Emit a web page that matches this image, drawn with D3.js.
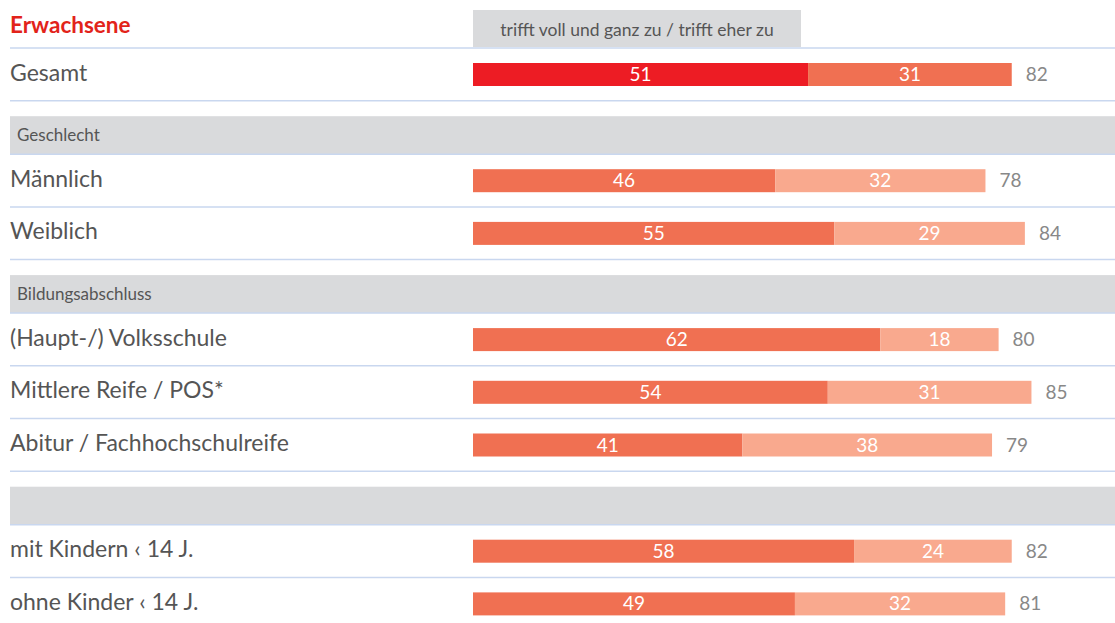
<!DOCTYPE html>
<html>
<head>
<meta charset="utf-8">
<script src="https://cdn.jsdelivr.net/npm/d3@7"></script>
<style>
  body { margin: 0; background: #fff; }
  svg { display: block; font-family: Lato, "Noto Sans", sans-serif; }
</style>
</head>
<body>
<svg width="1115" height="623"></svg>
<script>
// rows in order; type "band" = grey section header, "row" = bar row
var rowTypes = ["row", "band", "row", "row", "band", "row", "row", "row", "band", "row", "row"];
var rowLabels = ["Gesamt", "Geschlecht", "Männlich", "Weiblich", "Bildungsabschluss",
  "(Haupt-/) Volksschule", "Mittlere Reife / POS*", "Abitur / Fachhochschulreife", "",
  "mit Kindern ‹ 14 J.", "ohne Kinder ‹ 14 J."];
var voll = [51, null, 46, 55, null, 62, 54, 41, null, 58, 49];
var eher = [31, null, 32, 29, null, 18, 31, 38, null, 24, 32];
var total = [82, null, 78, 84, null, 80, 85, 79, null, 82, 81];

var title = "Erwachsene";
var header = "trifft voll und ganz zu / trifft eher zu";

var svg = d3.select("svg"),
  left = 10,
  width = 1115;

var x = d3.scaleLinear().domain([0, 100]).range([473, 473 + 657]);

var rowH = 52.7, bandH = 38, gap = 15.5;

// compute vertical layout
var y0 = 48, rows = [];
rowTypes.forEach(function (t, i) {
  if (t === "band") {
    y0 += gap;
    rows.push({ type: t, label: rowLabels[i], top: y0, h: bandH });
    y0 += bandH;
  } else {
    rows.push({ type: t, label: rowLabels[i], top: y0, h: rowH,
      a: voll[i], b: eher[i], tot: total[i], first: i === 0 });
    y0 += rowH;
  }
});

// title + header box
svg.append("text")
  .attr("x", left).attr("y", 33)
  .attr("fill", "#e2231a")
  .style("font-weight", "bold").style("font-size", "22.5px")
  .text(title);

svg.append("rect")
  .attr("x", 473).attr("y", 10).attr("width", 328).attr("height", 37)
  .attr("fill", "#d9dadc");
svg.append("text")
  .attr("x", 637).attr("y", 36).attr("text-anchor", "middle")
  .attr("fill", "#555").style("font-size", "17.5px")
  .text(header);

// top rule
svg.append("line")
  .attr("x1", left).attr("x2", width).attr("y1", 48).attr("y2", 48)
  .attr("stroke", "#c9d7ef").attr("stroke-width", 1.5);

var g = svg.selectAll("g.r")
  .data(rows)
  .enter().append("g")
  .attr("class", "r")
  .attr("transform", function (d) { return "translate(0," + d.top + ")"; });

g.filter(function (d) { return d.type === "band"; })
  .append("rect")
  .attr("x", left).attr("width", width - left).attr("height", bandH)
  .attr("fill", "#d9dadc");

g.filter(function (d) { return d.type === "band"; })
  .append("text")
  .attr("x", 17).attr("y", 25)
  .attr("fill", "#555").style("font-size", "17px")
  .text(function (d) { return d.label; });

g.append("line")
  .attr("x1", left).attr("x2", width)
  .attr("y1", function (d) { return d.h; }).attr("y2", function (d) { return d.h; })
  .attr("stroke", "#c9d7ef").attr("stroke-width", 1.5);

var r = g.filter(function (d) { return d.type === "row"; });

r.append("text")
  .attr("x", left).attr("y", 32.5)
  .attr("fill", "#555").style("font-size", "23px")
  .text(function (d) { return d.label; });

r.append("rect")
  .attr("x", x(0)).attr("y", 15).attr("height", 23)
  .attr("width", function (d) { return x(d.a) - x(0); })
  .attr("fill", function (d) { return d.first ? "#ed1c24" : "#f07052"; });

r.append("rect")
  .attr("x", function (d) { return x(d.a); }).attr("y", 15).attr("height", 23)
  .attr("width", function (d) { return x(d.a + d.b) - x(d.a); })
  .attr("fill", function (d) { return d.first ? "#f07052" : "#f9a98e"; });

r.append("text")
  .attr("x", function (d) { return (x(0) + x(d.a)) / 2; }).attr("y", 33)
  .attr("text-anchor", "middle").attr("fill", "#fff").style("font-size", "19px")
  .text(function (d) { return d.a; });

r.append("text")
  .attr("x", function (d) { return (x(d.a) + x(d.a + d.b)) / 2; }).attr("y", 33)
  .attr("text-anchor", "middle").attr("fill", "#fff").style("font-size", "19px")
  .text(function (d) { return d.b; });

r.append("text")
  .attr("x", function (d) { return x(d.tot) + 14; }).attr("y", 33)
  .attr("fill", "#888").style("font-size", "19px")
  .text(function (d) { return d.tot; });
</script>
</body>
</html>
